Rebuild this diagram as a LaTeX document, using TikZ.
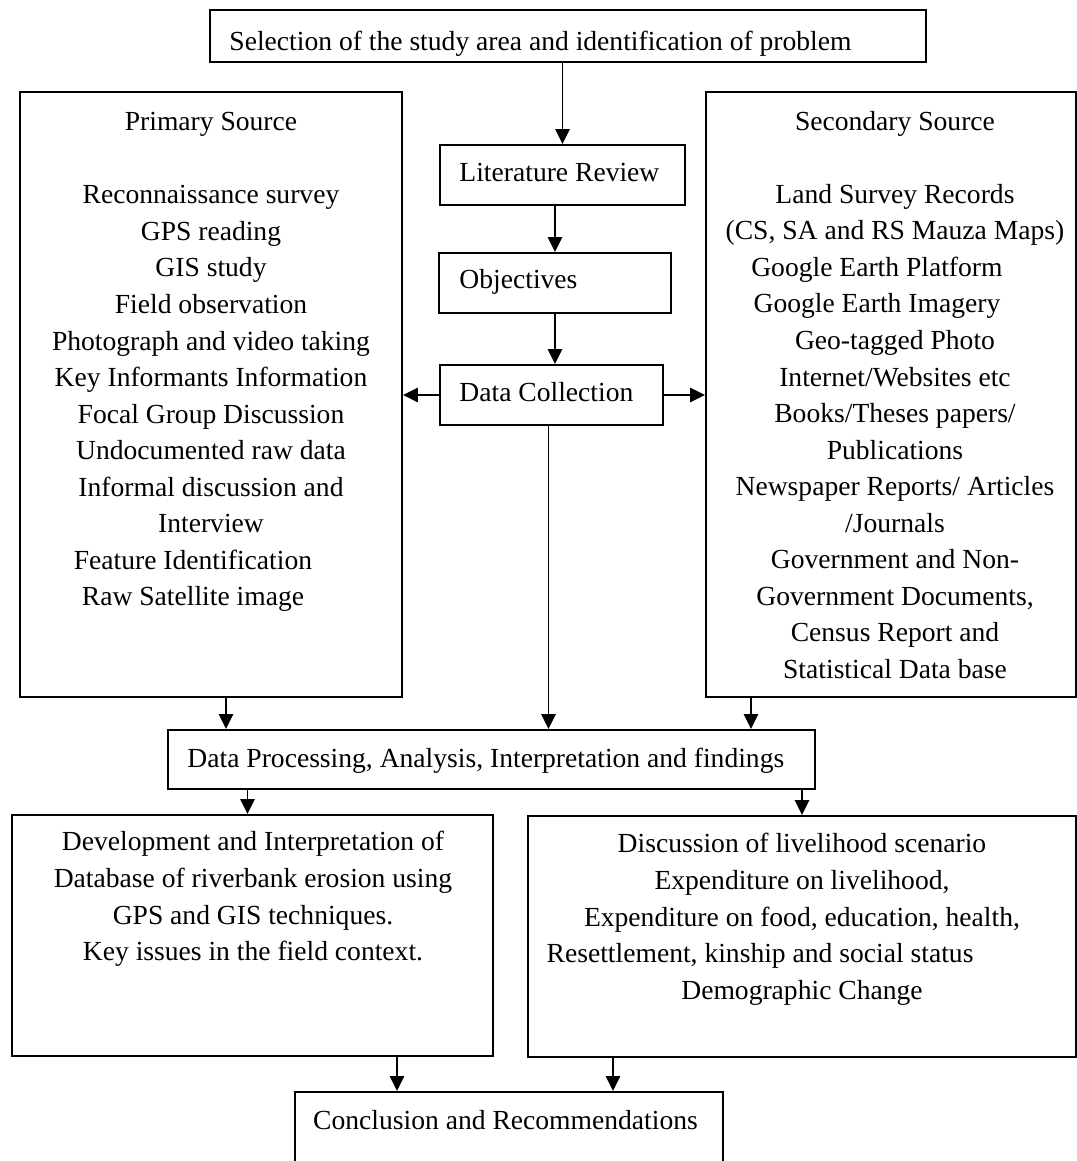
\documentclass[tikz,border=0pt]{standalone}
\usepackage{fontspec}
\setmainfont{Liberation Serif}
\usetikzlibrary{arrows.meta}
\newcommand{\px}{0.435pt}
\newcommand{\pad}[1]{\rule{#1}{0pt}}

\begin{document}
\begin{tikzpicture}[x=\px, y=-\px,
    box/.style={draw, line width=0.85pt, inner sep=0pt},
    txt/.style={inner sep=0pt, font=\fontsize{12}{15.9}\selectfont},
    arr/.style={line width=0.85pt, -{Triangle[length=6.5pt, width=6.2pt]}}]
  \useasboundingbox (0, 0) rectangle (1077, 1161);

  % Problem and literature
  \node [box, minimum width=716*\px, minimum height=52*\px] (top) at (568, 36) {};
  \node [txt, anchor=base west] (toptext) at (229, 50) {Selection of the study area and identification of problem};

  \node [box, minimum width=245*\px, minimum height=60*\px] (lit) at (562.5, 175) {};
  \node [txt, anchor=base west] (littext) at (459, 181.7) {Literature Review};

  \node [box, minimum width=232*\px, minimum height=60*\px] (obj) at (555, 283) {};
  \node [txt, anchor=base west] (objtext) at (459, 288) {Objectives};

  \node [box, minimum width=223*\px, minimum height=60*\px] (dc) at (551.5, 395) {};
  \node [txt, anchor=base west] (dctext) at (459, 401) {Data Collection};

  % Sources
  \node [box, minimum width=382*\px, minimum height=605*\px] (primary) at (211, 394.5) {};
  \node [txt, anchor=north, align=center] (primarytext) at (211, 112) {Primary Source\\[15.9pt]
    Reconnaissance survey\\ GPS reading\\ GIS study\\ Field observation\\
    Photograph and video taking\\ Key Informants Information\\ Focal Group Discussion\\
    Undocumented raw data\\ Informal discussion and\\ Interview\\
    Feature Identification\pad{15.7pt}\\ Raw Satellite image\pad{15.7pt}};

  \node [box, minimum width=370*\px, minimum height=605*\px] (secondary) at (891, 394.5) {};
  \node [txt, anchor=north, align=center] (secondarytext) at (895, 110.6) {Secondary Source\\[15.9pt]
    Land Survey Records\\ (CS, SA and RS Mauza Maps)\\
    Google Earth Platform\pad{15.7pt}\\ Google Earth Imagery\pad{15.7pt}\\
    Geo-tagged Photo\\ Internet/Websites etc\\ Books/Theses papers/\\ Publications\\
    Newspaper Reports/ Articles\\ /Journals\\ Government and Non-\\
    Government Documents,\\ Census Report and\\ Statistical Data base};

  % Processing
  \node [box, minimum width=647*\px, minimum height=59*\px] (dp) at (491.5, 759.5) {};
  \node [txt, anchor=base west] (dptext) at (187, 767) {Data Processing, Analysis, Interpretation and findings};

  % Results
  \node [box, minimum width=481*\px, minimum height=241*\px] (dev) at (252.5, 935.5) {};
  \node [txt, anchor=north, align=center] (devtext) at (253, 831) {Development and Interpretation of\\
    Database of riverbank erosion using\\ GPS and GIS techniques.\\ Key issues in the field context.};

  \node [box, minimum width=548*\px, minimum height=241*\px] (disc) at (802, 936.5) {};
  \node [txt, anchor=north, align=center] (disctext) at (802, 833) {Discussion of livelihood scenario\\
    Expenditure on livelihood,\\ Expenditure on food, education, health,\\
    Resettlement, kinship and social status\pad{36.5pt}\\ Demographic Change};

  \node [box, minimum width=428*\px, minimum height=83*\px] (concl) at (509, 1133.5) {};
  \node [txt, anchor=base] (concltext) at (505.5, 1129) {Conclusion and Recommendations};

  % Arrows
  \draw [arr] (top.south -| lit.north) -- (lit.north);
  \draw [arr] (lit.south -| obj.north) -- (obj.north);
  \draw [arr] (obj.south) -- (obj.south |- dc.north);
  \draw [arr] (dc.west) -- (dc.west -| primary.east);
  \draw [arr] (dc.east) -- (dc.east -| secondary.west);
  \draw [arr] ([xshift=-3*\px]dc.south) -- ([xshift=-3*\px]dc.south |- dp.north);
  \draw [arr] ([xshift=15*\px]primary.south) -- ([xshift=15*\px]primary.south |- dp.north);
  \draw [arr] ([xshift=-140*\px]secondary.south) -- ([xshift=-140*\px]secondary.south |- dp.north);
  \draw [arr] ([xshift=-5*\px]dp.south -| dev.north) -- ([xshift=-5*\px]dev.north);
  \draw [arr] (dp.south -| disc.north) -- (disc.north);
  \draw [arr] ([xshift=-112*\px]concl.north |- dev.south) -- ([xshift=-112*\px]concl.north);
  \draw [arr] ([xshift=104*\px]concl.north |- disc.south) -- ([xshift=104*\px]concl.north);
\end{tikzpicture}
\end{document}
